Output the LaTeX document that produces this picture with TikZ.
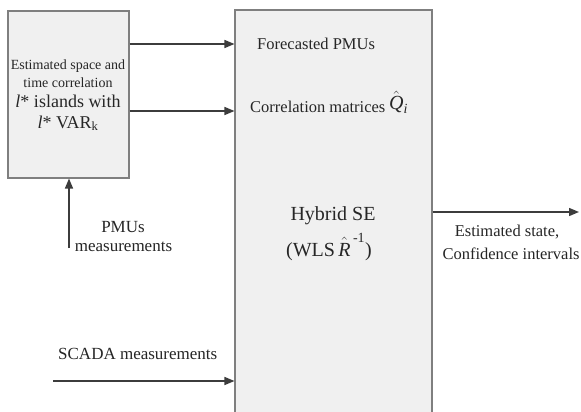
\documentclass[tikz,border=0pt]{standalone}
\usepackage{amsmath}
\usepackage{fontspec}
\setmainfont{Liberation Serif}
\usetikzlibrary{arrows.meta}

\definecolor{boxfill}{HTML}{F0F0F0}
\definecolor{boxline}{HTML}{7F7F7F}
\definecolor{flowcol}{HTML}{3C3C3C}

\newcommand{\fsz}[1]{\fontsize{#1}{#1}\selectfont}

\tikzset{
  block/.style={draw=boxline, line width=1.1pt, fill=boxfill, inner sep=0pt},
  flow/.style={draw=flowcol, line width=1.4pt,
    -{Triangle[length=10pt,width=8pt]}},
  lbl/.style={inner sep=0pt, text=black!85},
}

\begin{document}
\begin{tikzpicture}[x=1pt,y=-1pt]
  \clip (0,0) rectangle (581,412);
  \fill[white] (0,0) rectangle (581,412);

  % processing blocks
  \node[block, minimum width=121pt, minimum height=167pt] (est) at (68.5,94.5) {};
  \node[block, minimum width=197pt, minimum height=420pt] (hse) at (333.5,220) {};

  % text of the correlation block
  \node[lbl, anchor=base] (e1) at (68,70)  {\fsz{14}Estimated space and};
  \node[lbl, anchor=base] (e2) at (68,88)  {\fsz{14}time correlation};
  \node[lbl, anchor=base] (e3) at (68,107) {\fsz{18}\textit{l}* islands with};
  \node[lbl, anchor=base] (e4) at (68,128) {\fsz{18}\textit{l}* VAR\textsubscript{k}};

  % text of the hybrid estimator block
  \node[lbl, anchor=base west] (fc) at (257,50)
    {\fsz{16.5}Forecasted PMUs};
  \node[lbl, anchor=base west] (cm) at (250,112)
    {\fsz{16.5}Correlation matrices};
  \node[lbl, anchor=base west] (qh) at (389,110)
    {\fsz{20}$\hat{\text{\itshape Q}}_{\text{\itshape i}}$};
  \node[lbl, anchor=base] (hy) at (333,220) {\fsz{20}Hybrid SE};
  \node[lbl, anchor=base] (wl) at (329,256)
    {\fsz{20}(WLS\,$\hat{\text{\itshape R}}^{\,\text{-1}}$)};

  % inputs and outputs
  \node[lbl, anchor=base] (pm1) at (123,232) {\fsz{17}PMUs};
  \node[lbl, anchor=base] (pm2) at (123.5,251) {\fsz{17}measurements};
  \node[lbl, anchor=base west] (sc) at (58,359) {\fsz{17}SCADA measurements};
  \node[lbl, anchor=base] (os1) at (507,236) {\fsz{16.5}Estimated state,};
  \node[lbl, anchor=base] (os2) at (511,259) {\fsz{16.5}Confidence intervals};

  \coordinate (pmuin) at (69,248);
  \coordinate (scadain) at (53,381);
  \coordinate (out) at (579,212);

  % connectors
  \draw[flow] (est.east |- 0,44) -- (hse.west |- 0,44);
  \draw[flow] (est.east |- 0,111) -- (hse.west |- 0,111);
  \draw[flow] (pmuin) -- (pmuin |- est.south);
  \draw[flow] (scadain) -- (hse.west |- scadain);
  \draw[flow] (hse.east |- out) -- (out);
\end{tikzpicture}
\end{document}
